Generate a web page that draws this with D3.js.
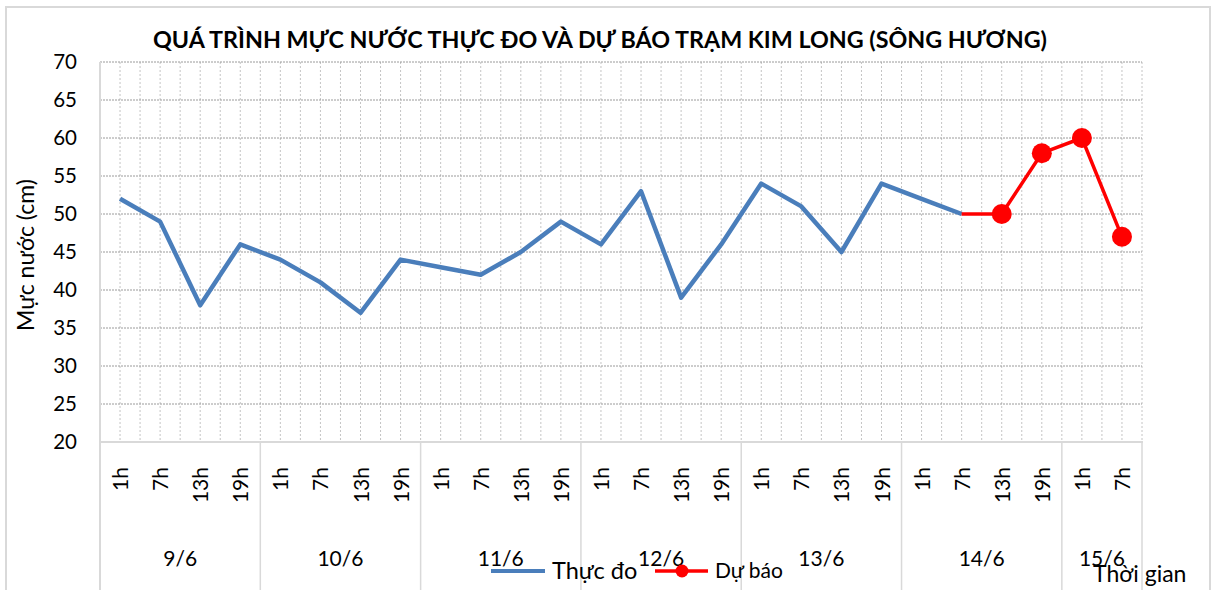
<!DOCTYPE html>
<html>
<head>
<meta charset="utf-8">
<script src="https://cdn.jsdelivr.net/npm/d3@7"></script>
<style>
  html, body { margin: 0; padding: 0; background: #fff; }
  text { font-family: Lato, "Noto Sans", sans-serif; fill: #000; }
</style>
</head>
<body>
<svg id="chart" width="1212" height="590"></svg>
<script>
// Chart data
const days = ["9/6", "10/6", "11/6", "12/6", "13/6", "14/6", "15/6"];
const hoursByDay = [
  ["1h", "7h", "13h", "19h"],
  ["1h", "7h", "13h", "19h"],
  ["1h", "7h", "13h", "19h"],
  ["1h", "7h", "13h", "19h"],
  ["1h", "7h", "13h", "19h"],
  ["1h", "7h", "13h", "19h"],
  ["1h", "7h"]
];
// Thực đo (observed)
const observed = [52, 49, 38, 46, 44, 41, 37, 44, 43, 42, 45, 49, 46, 53, 39, 46,
                  54, 51, 45, 54, 52, 50, null, null, null, null];
// Dự báo (forecast) – first point joins the observed line, no marker there
const forecast = [null, null, null, null, null, null, null, null, null, null, null, null,
                  null, null, null, null, null, null, null, null, null, 50, 50, 58, 60, 47];
const yTicks = [20, 25, 30, 35, 40, 45, 50, 55, 60, 65, 70];

const titleText = "QUÁ TRÌNH MỰC NƯỚC THỰC ĐO VÀ DỰ BÁO TRẠM KIM LONG (SÔNG HƯƠNG)";

// build category list from days/hours
const categories = [];
days.forEach((day, di) => {
  hoursByDay[di].forEach(h => categories.push({ day, hour: h, key: day + "-" + h }));
});

const svg = d3.select("#chart");
const plot = { left: 100, right: 1142, top: 62, bottom: 442 };
const chartBottom = 590;

// outer frame
svg.append("rect")
  .attr("x", 6).attr("y", 7)
  .attr("width", 1204).attr("height", 620)
  .attr("fill", "none")
  .attr("stroke", "#d9d9d9")
  .attr("stroke-width", 2);

const x = d3.scaleBand()
  .domain(categories.map(c => c.key))
  .range([plot.left, plot.right])
  .paddingInner(0).paddingOuter(0);
const bw = x.bandwidth();
const cx = k => x(k) + bw / 2;

const y = d3.scaleLinear().domain([20, 70]).range([plot.bottom, plot.top]);

// vertical dotted gridlines (category centres and boundaries)
const vGrid = svg.append("g").attr("class", "v-grid");
categories.forEach((c, i) => {
  [cx(c.key), x(c.key) + bw].forEach(px => {
    vGrid.append("line")
      .attr("x1", px).attr("x2", px)
      .attr("y1", plot.top).attr("y2", plot.bottom)
      .attr("stroke", "#c4c4c4")
      .attr("stroke-width", 1)
      .attr("stroke-dasharray", "2,2");
  });
});

// horizontal dotted gridlines
svg.append("g").attr("class", "h-grid")
  .selectAll("line")
  .data(yTicks.filter(t => t > 20))
  .join("line")
  .attr("x1", plot.left).attr("x2", plot.right)
  .attr("y1", d => y(d)).attr("y2", d => y(d))
  .attr("stroke", "#9a9a9a")
  .attr("stroke-width", 1)
  .attr("stroke-dasharray", "2,1");

// axis lines
svg.append("line")
  .attr("x1", plot.left).attr("x2", plot.left)
  .attr("y1", plot.top).attr("y2", chartBottom)
  .attr("stroke", "#d9d9d9").attr("stroke-width", 2);
svg.append("line")
  .attr("x1", plot.left).attr("x2", plot.right + 1)
  .attr("y1", plot.bottom).attr("y2", plot.bottom)
  .attr("stroke", "#d9d9d9").attr("stroke-width", 2);

// y axis
const yAxis = d3.axisLeft(y).tickValues(yTicks).tickSize(0).tickPadding(23);
const yG = svg.append("g")
  .attr("transform", `translate(${plot.left},0)`)
  .call(yAxis);
yG.select(".domain").remove();
yG.selectAll("text")
  .style("font-family", "Lato, 'Noto Sans', sans-serif")
  .style("font-size", "20.5px")
  .attr("fill", "#000");

// day separator lines below the axis
const dayStarts = [];
let idx = 0;
days.forEach((d, di) => {
  const first = categories[idx].key;
  const last = categories[idx + hoursByDay[di].length - 1].key;
  dayStarts.push({ day: d, x0: x(first), x1: x(last) + bw });
  idx += hoursByDay[di].length;
});
svg.append("g").selectAll("line")
  .data(dayStarts)
  .join("line")
  .attr("x1", d => d.x1).attr("x2", d => d.x1)
  .attr("y1", plot.bottom).attr("y2", chartBottom)
  .attr("stroke", "#d9d9d9").attr("stroke-width", 1.5);

// hour labels (rotated)
svg.append("g").selectAll("text")
  .data(categories)
  .join("text")
  .attr("transform", d => `translate(${cx(d.key) + 8},467) rotate(-90)`)
  .attr("text-anchor", "end")
  .style("font-size", "21px")
  .text(d => d.hour);

// day labels
svg.append("g").selectAll("text")
  .data(dayStarts)
  .join("text")
  .attr("x", d => (d.x0 + d.x1) / 2)
  .attr("y", 566)
  .attr("text-anchor", "middle")
  .style("font-size", "21px")
  .text(d => d.day);

// lines
const line = d3.line()
  .defined(d => d.v !== null)
  .x(d => cx(d.key))
  .y(d => y(d.v));

const obsData = categories.map((c, i) => ({ key: c.key, v: observed[i] }));
const fcData = categories.map((c, i) => ({ key: c.key, v: forecast[i] }));

svg.append("path")
  .datum(obsData)
  .attr("d", line)
  .attr("fill", "none")
  .attr("stroke", "#4a7ebb")
  .attr("stroke-width", 4.5)
  .attr("stroke-linejoin", "round");

svg.append("path")
  .datum(fcData)
  .attr("d", line)
  .attr("fill", "none")
  .attr("stroke", "#ff0000")
  .attr("stroke-width", 3.5)
  .attr("stroke-linejoin", "round");

const firstFc = forecast.findIndex(v => v !== null);
svg.append("g").selectAll("circle")
  .data(fcData.filter((d, i) => d.v !== null && i > firstFc))
  .join("circle")
  .attr("cx", d => cx(d.key))
  .attr("cy", d => y(d.v))
  .attr("r", 10)
  .attr("fill", "#ff0000");

// title
svg.append("text")
  .attr("x", 600).attr("y", 48)
  .attr("text-anchor", "middle")
  .style("font-size", "23.3px")
  .style("font-weight", "bold")
  .text(titleText);

// y axis title
svg.append("text")
  .attr("transform", "translate(34,255) rotate(-90)")
  .attr("text-anchor", "middle")
  .style("font-size", "23px")
  .text("Mực nước (cm)");

// legend
const lg = svg.append("g");
lg.append("line")
  .attr("x1", 491).attr("x2", 545).attr("y1", 571).attr("y2", 571)
  .attr("stroke", "#4a7ebb").attr("stroke-width", 4);
lg.append("text")
  .attr("x", 552).attr("y", 579)
  .style("font-size", "23.5px")
  .text("Thực đo");
lg.append("line")
  .attr("x1", 655).attr("x2", 708).attr("y1", 571).attr("y2", 571)
  .attr("stroke", "#ff0000").attr("stroke-width", 3.5);
lg.append("circle")
  .attr("cx", 682).attr("cy", 571).attr("r", 6.5)
  .attr("fill", "#ff0000");
lg.append("text")
  .attr("x", 715).attr("y", 578)
  .style("font-size", "21px")
  .text("Dự báo");

// x axis title
svg.append("text")
  .attr("x", 1093).attr("y", 582)
  .style("font-size", "23px")
  .text("Thời gian");
</script>
</body>
</html>
